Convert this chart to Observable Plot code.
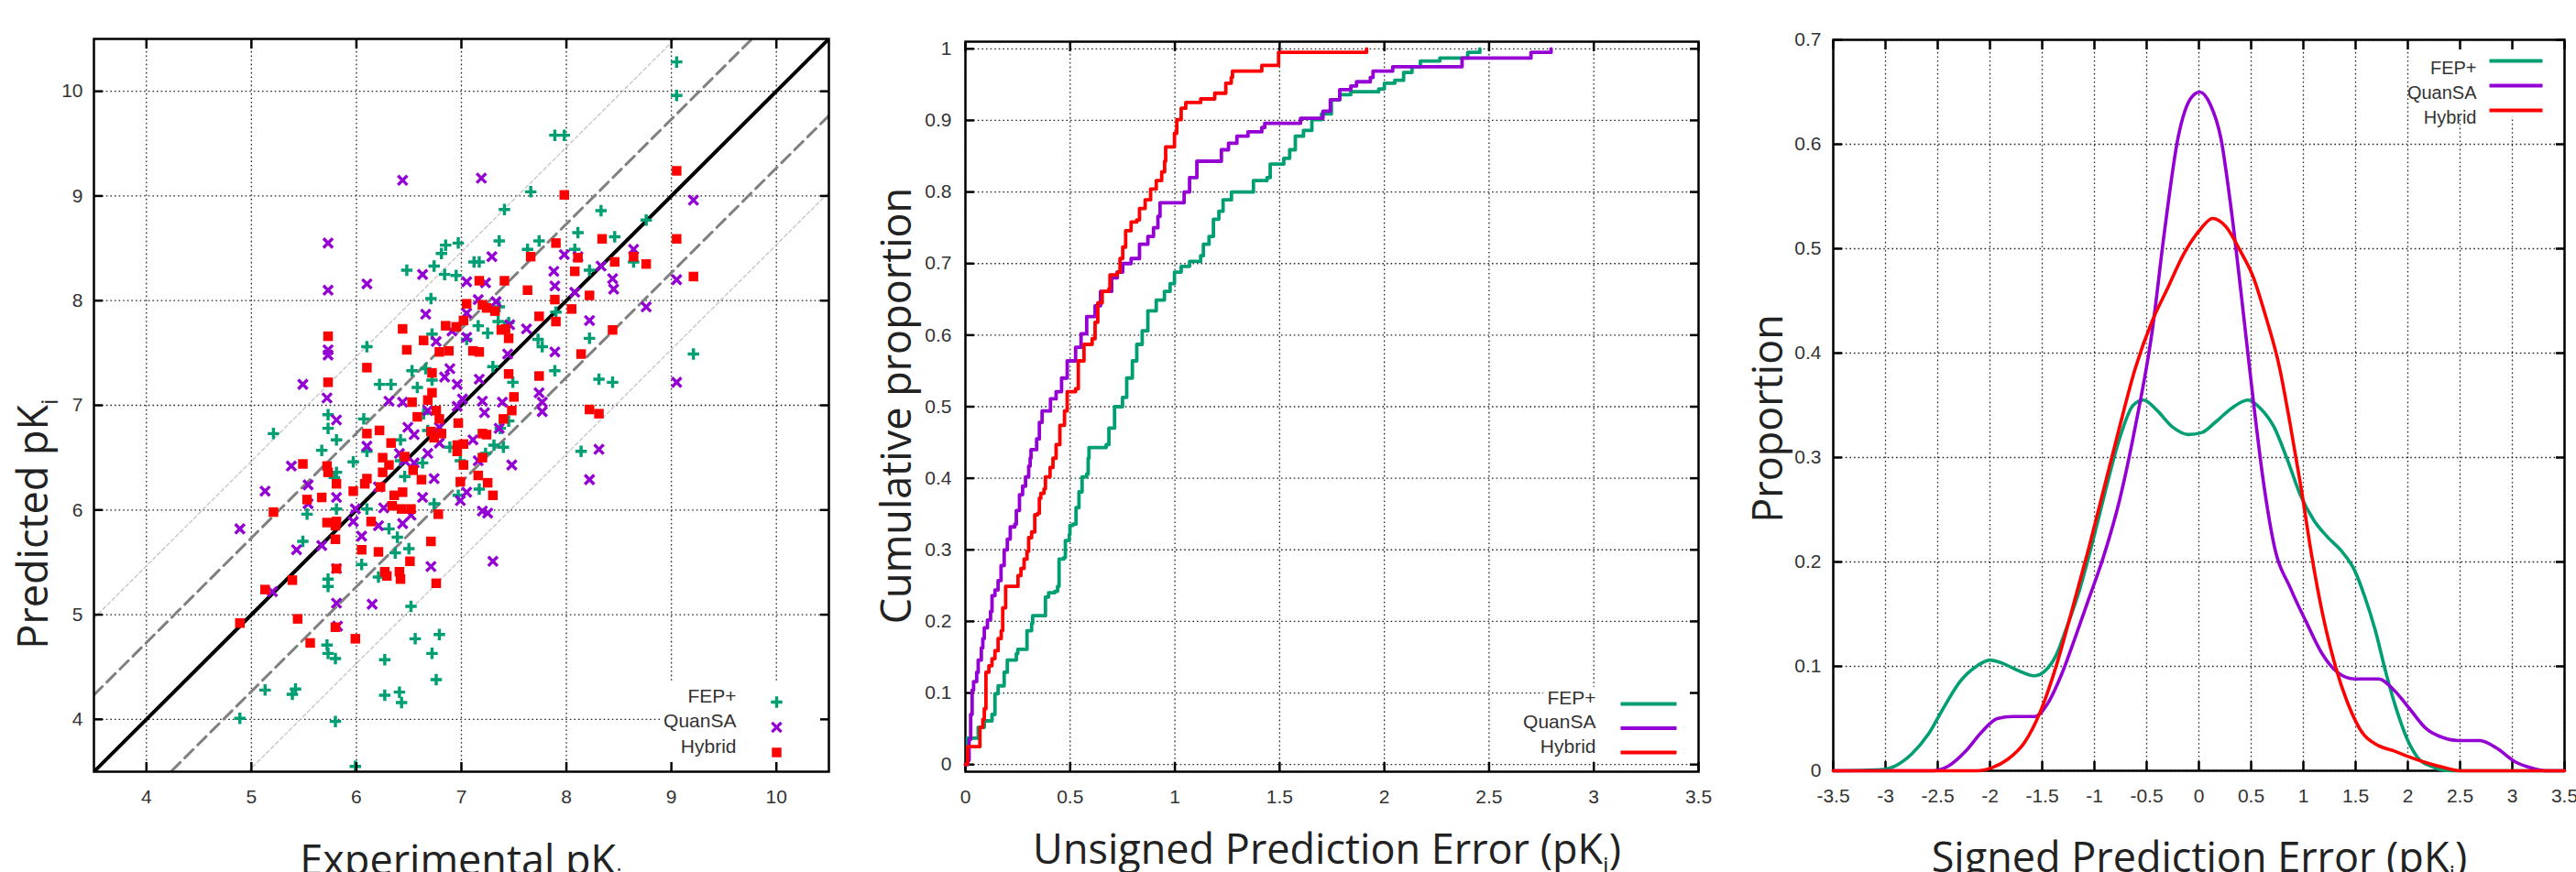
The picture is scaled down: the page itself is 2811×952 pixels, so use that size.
<!DOCTYPE html>
<html><head><meta charset="utf-8">
<script src="https://cdn.jsdelivr.net/npm/d3@7"></script>
<script src="https://cdn.jsdelivr.net/npm/@observablehq/plot@0.6"></script>
<style>
html,body{margin:0;padding:0;background:#fff;overflow:hidden}
#wrap{position:relative;width:2811px;height:952px;background:#fff}
.panel{position:absolute;top:0}
.panel svg{display:block}
</style></head><body><div id="wrap"></div>
<script>
// ---------- data ----------
const seriesNames = ["FEP+", "QuanSA", "Hybrid"];
const seriesColors = ["#009e73", "#9400d3", "#ff0000"];

// scatter: [experimental pKi, predicted pKi]
const fepPoints = [[9.05,10.28],[9.05,9.96],[7.89,9.58],[7.98,9.58],[7.66,9.04],[7.41,8.87],[8.33,8.86],[8.76,8.77],[8.11,8.65],[8.46,8.61],[7.36,8.57],[7.74,8.57],[6.85,8.53],[6.97,8.55],[6.81,8.45],[7.63,8.49],[8.08,8.49],[7.12,8.37],[7.17,8.37],[8.64,8.37],[6.74,8.33],[6.48,8.29],[8.22,8.29],[6.84,8.25],[6.95,8.24],[6.71,8.02],[7.36,7.94],[7.90,7.89],[7.35,7.80],[7.45,7.79],[7.16,7.76],[7.25,7.69],[7.73,7.63],[7.77,7.56],[7.05,7.63],[8.22,7.64],[6.10,7.56],[6.72,7.68],[7.89,7.33],[6.53,7.33],[6.66,7.35],[7.30,7.37],[6.22,7.20],[6.33,7.20],[6.58,7.17],[6.72,7.24],[7.49,7.22],[8.31,7.25],[8.44,7.22],[9.21,7.49],[5.21,6.73],[5.73,6.91],[6.07,6.87],[5.73,6.78],[5.81,6.67],[5.67,6.57],[6.42,6.67],[6.64,6.92],[6.68,6.76],[6.89,6.60],[7.31,6.62],[7.40,6.60],[7.37,6.78],[7.45,6.85],[8.14,6.56],[5.97,6.46],[6.10,6.56],[6.42,6.47],[6.63,6.45],[6.99,6.47],[7.23,6.54],[5.81,6.36],[5.79,6.31],[6.46,6.32],[6.97,6.14],[7.17,6.20],[6.74,6.06],[5.53,5.96],[5.81,6.01],[6.10,6.01],[6.31,5.82],[6.39,5.74],[5.49,5.70],[6.50,5.63],[6.37,5.59],[6.05,5.48],[6.21,5.36],[5.73,5.34],[5.73,5.27],[6.52,5.08],[5.72,4.71],[5.73,4.63],[5.80,4.58],[6.56,4.77],[6.79,4.81],[6.72,4.63],[6.27,4.57],[5.13,4.28],[5.39,4.24],[5.42,4.29],[6.27,4.23],[6.41,4.26],[6.43,4.16],[6.76,4.38],[4.89,4.01],[5.80,3.98],[5.99,3.55]];

const quansaPoints = [[6.44,9.15],[7.19,9.17],[9.21,8.96],[5.73,8.55],[8.64,8.49],[7.29,8.42],[7.98,8.44],[8.11,8.42],[8.33,8.33],[6.63,8.25],[7.88,8.28],[8.44,8.21],[9.05,8.20],[5.73,8.10],[6.10,8.16],[7.23,8.17],[7.05,8.18],[8.45,8.11],[7.89,8.14],[7.33,7.99],[8.08,8.08],[7.16,8.01],[6.66,7.87],[7.05,7.88],[8.76,7.94],[8.22,7.81],[7.46,7.77],[7.62,7.73],[6.91,7.71],[7.05,7.65],[6.76,7.61],[7.89,7.51],[7.44,7.49],[5.73,7.53],[5.73,7.48],[6.89,7.35],[6.84,7.27],[7.17,7.25],[5.49,7.20],[6.96,7.20],[9.05,7.22],[5.72,7.07],[6.44,7.03],[6.31,7.04],[7.01,7.06],[7.74,7.12],[7.77,7.03],[7.39,7.03],[7.20,7.04],[6.96,6.99],[7.77,6.94],[7.22,6.93],[5.81,6.86],[6.68,6.95],[6.49,6.79],[6.79,6.79],[7.36,6.78],[6.55,6.72],[6.79,6.64],[7.11,6.67],[6.10,6.61],[8.31,6.58],[6.41,6.54],[6.68,6.54],[5.38,6.42],[7.48,6.43],[6.46,6.47],[6.55,6.45],[7.16,6.47],[5.54,6.24],[6.74,6.30],[8.22,6.29],[6.21,6.22],[5.81,6.12],[5.13,6.18],[6.63,6.12],[7.05,6.17],[6.99,6.09],[5.54,6.06],[6.26,6.02],[5.99,6.01],[7.20,5.99],[7.25,5.97],[6.52,5.95],[5.97,5.89],[6.44,5.87],[6.21,5.85],[4.89,5.82],[6.05,5.75],[5.67,5.66],[5.43,5.62],[7.30,5.51],[6.71,5.46],[5.81,5.44],[5.20,5.22],[5.81,5.11],[6.15,5.10],[5.82,4.89]];

const hybridPoints = [[9.05,9.24],[7.98,9.01],[7.90,8.55],[8.34,8.59],[9.05,8.59],[7.66,8.42],[8.11,8.41],[8.64,8.42],[8.46,8.37],[8.76,8.35],[8.08,8.28],[9.21,8.23],[7.17,8.19],[7.41,8.19],[7.63,8.10],[8.22,8.05],[7.89,8.01],[7.05,7.97],[7.20,7.96],[7.24,7.93],[7.32,7.90],[8.05,7.92],[7.74,7.85],[7.02,7.81],[7.90,7.80],[6.85,7.76],[6.95,7.75],[6.44,7.73],[7.38,7.72],[7.42,7.73],[8.44,7.72],[6.64,7.62],[7.45,7.64],[5.73,7.66],[6.48,7.53],[6.79,7.51],[6.88,7.52],[7.11,7.52],[7.17,7.51],[8.14,7.49],[6.10,7.36],[6.72,7.31],[7.45,7.30],[7.74,7.28],[5.73,7.22],[6.72,7.12],[6.68,7.05],[6.53,7.03],[7.50,7.08],[8.22,6.96],[8.31,6.92],[6.58,6.89],[6.76,6.95],[6.79,6.87],[7.48,6.95],[7.40,6.87],[6.97,6.83],[6.10,6.73],[6.22,6.76],[6.71,6.75],[6.81,6.73],[7.20,6.73],[7.24,6.72],[6.33,6.64],[6.74,6.69],[6.96,6.62],[7.02,6.63],[6.96,6.56],[6.25,6.50],[7.20,6.50],[7.02,6.43],[5.49,6.44],[5.72,6.42],[6.31,6.43],[6.46,6.51],[5.73,6.36],[6.25,6.36],[7.16,6.33],[6.54,6.38],[5.81,6.25],[6.10,6.30],[6.08,6.25],[6.99,6.27],[7.25,6.26],[6.23,6.22],[6.62,6.29],[5.67,6.12],[5.97,6.18],[6.36,6.14],[6.44,6.17],[7.30,6.14],[5.53,6.10],[6.34,6.04],[6.43,6.01],[6.52,6.01],[5.21,5.98],[6.78,5.96],[5.72,5.88],[5.81,5.89],[6.14,5.89],[5.80,5.85],[5.80,5.72],[6.71,5.70],[6.05,5.62],[6.21,5.60],[6.51,5.51],[5.81,5.44],[6.27,5.41],[6.41,5.41],[6.29,5.37],[6.42,5.34],[5.39,5.33],[6.76,5.30],[5.13,5.24],[5.44,4.96],[4.89,4.92],[5.80,4.88],[5.99,4.77],[5.56,4.73]];

// cumulative proportion of unsigned error: [error, proportion]
const cdfFep = [[0,0],[0.01,0.037],[0.061,0.052],[0.09,0.061],[0.127,0.070],[0.141,0.099],[0.156,0.110],[0.185,0.129],[0.20,0.146],[0.243,0.155],[0.25,0.161],[0.294,0.187],[0.316,0.197],[0.321,0.208],[0.375,0.208],[0.382,0.234],[0.397,0.240],[0.426,0.242],[0.44,0.249],[0.447,0.287],[0.469,0.289],[0.477,0.313],[0.496,0.321],[0.499,0.334],[0.513,0.336],[0.528,0.359],[0.542,0.381],[0.557,0.402],[0.579,0.406],[0.586,0.428],[0.59,0.443],[0.672,0.447],[0.685,0.47],[0.712,0.50],[0.75,0.513],[0.77,0.54],[0.797,0.564],[0.818,0.587],[0.844,0.606],[0.871,0.634],[0.911,0.649],[0.95,0.661],[0.977,0.672],[0.998,0.688],[1.03,0.696],[1.07,0.703],[1.123,0.711],[1.136,0.727],[1.163,0.738],[1.184,0.762],[1.21,0.773],[1.23,0.789],[1.27,0.80],[1.362,0.80],[1.375,0.816],[1.44,0.82],[1.455,0.839],[1.52,0.847],[1.548,0.859],[1.575,0.878],[1.614,0.886],[1.654,0.901],[1.70,0.909],[1.747,0.929],[1.787,0.936],[1.84,0.94],[1.973,0.944],[2.0,0.952],[2.05,0.956],[2.092,0.967],[2.132,0.975],[2.172,0.983],[2.265,0.987],[2.398,0.995],[2.456,1.0]];
const cdfQuansa = [[0,0],[0.01,0.006],[0.0175,0.035],[0.025,0.07],[0.032,0.104],[0.039,0.116],[0.054,0.129],[0.061,0.146],[0.076,0.163],[0.083,0.176],[0.09,0.191],[0.105,0.202],[0.12,0.214],[0.127,0.236],[0.141,0.244],[0.156,0.257],[0.17,0.278],[0.185,0.30],[0.20,0.315],[0.214,0.332],[0.236,0.336],[0.243,0.355],[0.258,0.377],[0.273,0.389],[0.287,0.402],[0.302,0.417],[0.309,0.428],[0.313,0.44],[0.34,0.455],[0.353,0.478],[0.366,0.494],[0.406,0.511],[0.433,0.521],[0.459,0.54],[0.486,0.564],[0.526,0.583],[0.552,0.602],[0.579,0.626],[0.619,0.641],[0.645,0.661],[0.698,0.680],[0.725,0.688],[0.751,0.70],[0.791,0.707],[0.831,0.727],[0.871,0.738],[0.898,0.75],[0.919,0.766],[0.929,0.785],[1.017,0.785],[1.044,0.80],[1.07,0.82],[1.105,0.843],[1.203,0.843],[1.222,0.859],[1.256,0.868],[1.296,0.878],[1.349,0.884],[1.415,0.89],[1.429,0.896],[1.575,0.896],[1.60,0.903],[1.668,0.903],[1.707,0.913],[1.742,0.929],[1.787,0.943],[1.84,0.948],[1.867,0.954],[1.933,0.960],[1.946,0.969],[2.04,0.975],[2.358,0.975],[2.371,0.987],[2.69,0.987],[2.70,0.995],[2.796,1.0]];
const cdfHybrid = [[0,0],[0.003,0.001],[0.01,0.025],[0.061,0.025],[0.069,0.052],[0.083,0.063],[0.09,0.078],[0.098,0.129],[0.112,0.138],[0.127,0.148],[0.141,0.159],[0.156,0.176],[0.171,0.187],[0.178,0.219],[0.192,0.249],[0.243,0.249],[0.251,0.264],[0.265,0.274],[0.28,0.287],[0.294,0.298],[0.302,0.317],[0.316,0.325],[0.331,0.349],[0.345,0.351],[0.353,0.372],[0.36,0.379],[0.375,0.385],[0.382,0.402],[0.404,0.415],[0.418,0.428],[0.433,0.447],[0.451,0.474],[0.473,0.494],[0.486,0.521],[0.526,0.525],[0.539,0.564],[0.566,0.587],[0.605,0.595],[0.619,0.618],[0.632,0.645],[0.653,0.661],[0.685,0.665],[0.69,0.684],[0.725,0.688],[0.738,0.707],[0.751,0.723],[0.765,0.746],[0.791,0.758],[0.818,0.761],[0.831,0.777],[0.858,0.789],[0.884,0.804],[0.911,0.816],[0.937,0.828],[0.951,0.843],[0.956,0.863],[0.99,0.863],[0.998,0.882],[1.009,0.901],[1.03,0.917],[1.052,0.925],[1.11,0.925],[1.123,0.930],[1.176,0.930],[1.19,0.938],[1.229,0.938],[1.243,0.952],[1.269,0.96],[1.275,0.969],[1.402,0.969],[1.415,0.977],[1.482,0.977],[1.495,0.995],[1.907,0.995],[1.915,1.0]];

// density of signed error: [error, proportion]
const kdeFep = [[-3.5,0],[-3.05,0.001],[-2.9,0.005],[-2.75,0.016],[-2.59,0.035],[-2.44,0.061],[-2.29,0.085],[-2.13,0.10],[-2.0,0.106],[-1.88,0.103],[-1.73,0.096],[-1.58,0.091],[-1.47,0.096],[-1.37,0.11],[-1.27,0.136],[-1.14,0.174],[-1.01,0.222],[-0.89,0.27],[-0.76,0.318],[-0.63,0.35],[-0.53,0.355],[-0.40,0.345],[-0.25,0.329],[-0.10,0.322],[0.03,0.324],[0.16,0.334],[0.31,0.347],[0.47,0.355],[0.59,0.347],[0.72,0.329],[0.85,0.297],[0.98,0.262],[1.10,0.240],[1.23,0.224],[1.36,0.211],[1.49,0.192],[1.59,0.166],[1.69,0.134],[1.79,0.094],[1.90,0.056],[2.0,0.029],[2.10,0.012],[2.23,0.004],[2.35,0.0005],[2.5,0],[3.5,0]];
const kdeQuansa = [[-3.5,0],[-2.54,0],[-2.39,0.005],[-2.23,0.019],[-2.08,0.037],[-1.93,0.05],[-1.78,0.052],[-1.57,0.052],[-1.45,0.064],[-1.32,0.091],[-1.19,0.126],[-1.06,0.163],[-0.91,0.206],[-0.76,0.259],[-0.61,0.329],[-0.45,0.419],[-0.33,0.516],[-0.20,0.606],[-0.07,0.645],[0.01,0.650],[0.11,0.638],[0.21,0.606],[0.31,0.537],[0.41,0.452],[0.52,0.355],[0.62,0.275],[0.72,0.216],[0.88,0.174],[1.03,0.142],[1.18,0.112],[1.33,0.094],[1.49,0.088],[1.72,0.088],[1.87,0.077],[2.02,0.059],[2.18,0.040],[2.33,0.032],[2.48,0.029],[2.69,0.029],[2.86,0.021],[3.02,0.009],[3.17,0.003],[3.32,0],[3.5,0]];
const kdeHybrid = [[-3.5,0],[-2.13,0],[-1.98,0.003],[-1.83,0.011],[-1.67,0.027],[-1.52,0.056],[-1.37,0.099],[-1.22,0.152],[-1.06,0.211],[-0.91,0.27],[-0.76,0.329],[-0.61,0.385],[-0.45,0.43],[-0.30,0.462],[-0.15,0.494],[0.01,0.518],[0.13,0.529],[0.26,0.521],[0.39,0.499],[0.52,0.473],[0.64,0.435],[0.77,0.387],[0.87,0.334],[0.98,0.27],[1.08,0.206],[1.18,0.152],[1.31,0.099],[1.44,0.061],[1.56,0.037],[1.72,0.024],[1.87,0.019],[2.02,0.013],[2.20,0.007],[2.35,0.003],[2.51,0],[3.5,0]];

// ticks
const x1Ticks = [4, 5, 6, 7, 8, 9, 10];
const y1Ticks = [4, 5, 6, 7, 8, 9, 10];
const x2Ticks = [0, 0.5, 1, 1.5, 2, 2.5, 3, 3.5];
const y2Ticks = [0, 0.1, 0.2, 0.3, 0.4, 0.5, 0.6, 0.7, 0.8, 0.9, 1];
const x3Ticks = [-3.5, -3, -2.5, -2, -1.5, -1, -0.5, 0, 0.5, 1, 1.5, 2, 2.5, 3, 3.5];
const y3Ticks = [0, 0.1, 0.2, 0.3, 0.4, 0.5, 0.6, 0.7];

// reference lines: offsets of y = x + k (0, ±1 and ±2 kcal/mol in pK units)
const refSolid = [0];
const refDashed = [0.733, -0.733];
const refDotted = [1.466, -1.466];

// ---------- helpers ----------
const tickFont = "'Liberation Sans', Arial, sans-serif";
const titleFont = "'Open Sans', sans-serif";
const fmt = d => String(d);
const gridStyle = {stroke: "#000", strokeOpacity: 0.85, strokeWidth: 1.3, strokeDasharray: "1.6,3"};

function axes(xt, yt, xPad, yPad) {
  return [
    Plot.axisX(xt, {anchor: "bottom", tickSize: 0, tickPadding: xPad, tickFormat: fmt, label: null, fontSize: 21}),
    Plot.axisX(xt, {anchor: "bottom", tickSize: -10, tickFormat: () => "", label: null, strokeWidth: 2.5, stroke: "#000"}),
    Plot.axisX(xt, {anchor: "top", tickSize: -10, tickFormat: () => "", label: null, strokeWidth: 2.5, stroke: "#000"}),
    Plot.axisY(yt, {anchor: "left", tickSize: 0, tickPadding: yPad, tickFormat: fmt, label: null, fontSize: 21}),
    Plot.axisY(yt, {anchor: "left", tickSize: -10, tickFormat: () => "", label: null, strokeWidth: 2.5, stroke: "#000"}),
    Plot.axisY(yt, {anchor: "right", tickSize: -10, tickFormat: () => "", label: null, strokeWidth: 2.5, stroke: "#000"})
  ];
}

function lineSymbol(half) {
  return {draw(ctx) { ctx.moveTo(-half, 0); ctx.lineTo(half, 0); }};
}

function addTitle(svg, o) {
  const t = d3.select(svg).append("text")
    .attr("transform", o.rotate ? `translate(${o.x},${o.y}) rotate(-90)` : `translate(${o.x},${o.y})`)
    .attr("text-anchor", "middle")
    .attr("font-family", titleFont)
    .attr("font-size", 45)
    .attr("fill", "#222");
  t.append("tspan").text(o.main);
  t.append("tspan").attr("font-size", 26).attr("dy", 11).text(o.sub);
  if (o.tail) t.append("tspan").attr("dy", -11).text(o.tail);
}

function place(svg, left) {
  const div = document.createElement("div");
  div.className = "panel";
  div.style.left = left + "px";
  div.appendChild(svg);
  document.getElementById("wrap").appendChild(div);
}

const baseStyle = {background: "white", overflow: "visible", fontFamily: tickFont, fontSize: "21px", color: "#333"};

// symbol styles
const plusStyle = {symbol: "plus", stroke: seriesColors[0], fill: "none", strokeWidth: 3.4, r: 4.1};
const timesStyle = {symbol: "times", stroke: seriesColors[1], fill: "none", strokeWidth: 3.4, r: 4.7};
const squareStyle = {symbol: "square", fill: seriesColors[2], r: 5.9};

// ---------- panel 1: scatter ----------
const dom1 = [3.5, 10.5];
const refLine = k => dom1.map(v => [v, v + k]);
const p1 = Plot.plot({
  width: 940, height: 952,
  marginLeft: 102, marginRight: 36, marginTop: 42, marginBottom: 110,
  x: {domain: dom1}, y: {domain: dom1},
  style: baseStyle,
  marks: [
    Plot.gridX(x1Ticks, gridStyle),
    Plot.gridY(y1Ticks, gridStyle),
    Plot.rect([{x1: 8.9, x2: 10.5, y1: 3.5, y2: 4.36}], {x1: "x1", x2: "x2", y1: "y1", y2: "y2", fill: "white"}),
    ...refDotted.map(k => Plot.line(refLine(k), {x: d => d[0], y: d => d[1], stroke: "#c4c4c4", strokeWidth: 1.3, strokeDasharray: "4,3", clip: true})),
    ...refDashed.map(k => Plot.line(refLine(k), {x: d => d[0], y: d => d[1], stroke: "#808080", strokeWidth: 3, strokeDasharray: "13,7", clip: true})),
    ...refSolid.map(k => Plot.line(refLine(k), {x: d => d[0], y: d => d[1], stroke: "#000", strokeWidth: 4, clip: true})),
    Plot.dot(fepPoints, {x: d => d[0], y: d => d[1], ...plusStyle}),
    Plot.dot(quansaPoints, {x: d => d[0], y: d => d[1], ...timesStyle}),
    Plot.dot(hybridPoints, {x: d => d[0], y: d => d[1], ...squareStyle}),
    Plot.frame({stroke: "#000", strokeWidth: 2.5}),
    ...axes(x1Ticks, y1Ticks, 20, 12),
    ...seriesNames.map((n, i) => Plot.text([n], {text: d => d, frameAnchor: "bottom-right", dx: -101, dy: -76 + 27.5 * i, textAnchor: "end", fontSize: 21, fill: "#333"})),
    Plot.dot([0], {frameAnchor: "bottom-right", dx: -57, dy: -76, ...plusStyle}),
    Plot.dot([0], {frameAnchor: "bottom-right", dx: -57, dy: -48.5, ...timesStyle}),
    Plot.dot([0], {frameAnchor: "bottom-right", dx: -57, dy: -21, ...squareStyle})
  ]
});
addTitle(p1, {x: 503, y: 955, main: "Experimental pK", sub: "i"});
addTitle(p1, {x: 52, y: 572, rotate: true, main: "Predicted pK", sub: "i"});
place(p1, 0);

// ---------- panel 2: cumulative ----------
const cdfs = [cdfFep, cdfQuansa, cdfHybrid];
const p2 = Plot.plot({
  width: 940, height: 952,
  marginLeft: 103, marginRight: 37, marginTop: 45, marginBottom: 110,
  x: {domain: [0, 3.5]}, y: {domain: [-0.01, 1.01]},
  style: baseStyle,
  marks: [
    Plot.gridX(x2Ticks, gridStyle),
    Plot.gridY(y2Ticks, gridStyle),
    Plot.rect([{x1: 2.76, x2: 3.5, y1: 0.006, y2: 0.108}], {x1: "x1", x2: "x2", y1: "y1", y2: "y2", fill: "white"}),
    Plot.frame({stroke: "#000", strokeWidth: 2.5}),
    ...axes(x2Ticks, y2Ticks, 20, 15),
    ...cdfs.map((c, i) => Plot.line(c, {x: d => d[0], y: d => d[1], stroke: seriesColors[i], strokeWidth: 3.8, curve: "step-after"})),
    ...seriesNames.map((n, i) => Plot.text([n], {text: d => d, frameAnchor: "bottom-right", dx: -112, dy: -74 + 26.5 * i, textAnchor: "end", fontSize: 21, fill: "#333"})),
    ...seriesNames.map((n, i) => Plot.dot([n], {frameAnchor: "bottom-right", dx: -54.5, dy: -74 + 26.5 * i, symbol: lineSymbol(30.5), stroke: seriesColors[i], fill: "none", strokeWidth: 4}))
  ]
});
addTitle(p2, {x: 498, y: 943, main: "Unsigned Prediction Error (pK", sub: "i", tail: ")"});
addTitle(p2, {x: 44, y: 443, rotate: true, main: "Cumulative proportion", sub: ""});
place(p2, 950);

// ---------- panel 3: density ----------
const kdes = [kdeFep, kdeQuansa, kdeHybrid];
const p3 = Plot.plot({
  width: 911, height: 952,
  marginLeft: 100, marginRight: 13, marginTop: 43, marginBottom: 111,
  x: {domain: [-3.5, 3.5]}, y: {domain: [0, 0.7]},
  style: baseStyle,
  marks: [
    Plot.gridX(x3Ticks, gridStyle),
    Plot.gridY(y3Ticks, gridStyle),
    Plot.rect([{x1: 2.11, x2: 3.5, y1: 0.626, y2: 0.7}], {x1: "x1", x2: "x2", y1: "y1", y2: "y2", fill: "white"}),
    Plot.frame({stroke: "#000", strokeWidth: 2.5}),
    ...axes(x3Ticks, y3Ticks, 20, 13),
    ...kdes.map((c, i) => Plot.line(c, {x: d => d[0], y: d => d[1], stroke: seriesColors[i], strokeWidth: 3.6, curve: "monotone-x"})),
    ...seriesNames.map((n, i) => Plot.text([n], {text: d => d, frameAnchor: "top-right", dx: -96, dy: 23 + 27 * i, textAnchor: "end", fontSize: 20, fill: "#333"})),
    ...seriesNames.map((n, i) => Plot.dot([n], {frameAnchor: "top-right", dx: -53, dy: 23 + 27 * i, symbol: lineSymbol(29), stroke: seriesColors[i], fill: "none", strokeWidth: 4}))
  ]
});
addTitle(p3, {x: 500, y: 952, main: "Signed Prediction Error (pK", sub: "i", tail: ")"});
addTitle(p3, {x: 45, y: 457, rotate: true, main: "Proportion", sub: ""});
place(p3, 1900);
</script></body></html>
